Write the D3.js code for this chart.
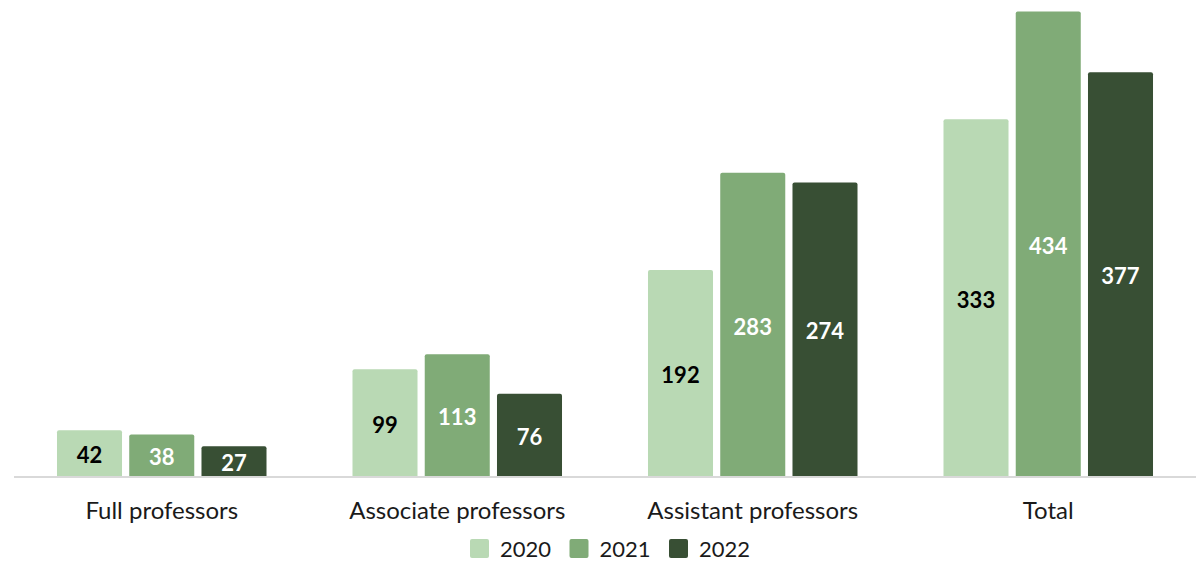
<!DOCTYPE html>
<html>
<head>
<meta charset="utf-8">
<script src="https://cdn.jsdelivr.net/npm/d3@7"></script>
<style>
  body { margin: 0; background: #fff; }
  svg { display: block; font-family: Lato, "Open Sans", sans-serif; }
</style>
</head>
<body>
<svg id="chart" width="1200" height="561"></svg>
<script>
var categories = ['Full professors', 'Associate professors', 'Assistant professors', 'Total'];
var years = ['2020', '2021', '2022'];
var values2020 = [42, 99, 192, 333];
var values2021 = [38, 113, 283, 434];
var values2022 = [27, 76, 274, 377];

var colors = ['#b9d9b4', '#80ab77', '#384f34'];
var labelColors = ['#000', '#fff', '#fff'];

var seriesValues = [values2020, values2021, values2022];

var svg = d3.select('#chart');

var x0 = d3.scaleBand()
  .domain(categories)
  .range([14, 1196]);

var x1 = d3.scaleBand()
  .domain(years)
  .range([0, x0.bandwidth()])
  .paddingInner(0.1)
  .paddingOuter(0.595);

var y = d3.scaleLinear()
  .domain([0, 434])
  .range([475, 11.5]);

var rows = categories.map(function (c, i) {
  return {
    category: c,
    bars: years.map(function (yr, j) {
      return { year: yr, idx: j, value: seriesValues[j][i] };
    })
  };
});

var groups = svg.append('g')
  .selectAll('g.group')
  .data(rows)
  .enter()
  .append('g')
  .attr('class', 'group')
  .attr('transform', function (d) { return 'translate(' + x0(d.category) + ',0)'; });

groups.selectAll('rect')
  .data(function (d) { return d.bars; })
  .enter()
  .append('rect')
  .attr('x', function (d) { return x1(d.year); })
  .attr('y', function (d) { return y(d.value); })
  .attr('width', x1.bandwidth())
  .attr('height', function (d) { return y(0) - y(d.value) + 3; })
  .attr('rx', 2)
  .attr('fill', function (d) { return colors[d.idx]; });

groups.selectAll('text.value')
  .data(function (d) { return d.bars; })
  .enter()
  .append('text')
  .attr('class', 'value')
  .attr('x', function (d) { return x1(d.year) + x1.bandwidth() / 2; })
  .attr('y', function (d) { return (y(d.value) + y(0)) / 2 + 3; })
  .attr('dy', '0.35em')
  .attr('text-anchor', 'middle')
  .style('font-size', '22px')
  .style('font-weight', 'bold')
  .attr('fill', function (d) { return labelColors[d.idx]; })
  .text(function (d) { return d.value; });

// baseline
svg.append('line')
  .attr('x1', 14)
  .attr('x2', 1196)
  .attr('y1', 477)
  .attr('y2', 477)
  .attr('stroke', '#d9d9d9')
  .attr('stroke-width', 2);

// category axis
var xAxis = svg.append('g')
  .attr('transform', 'translate(0,477)')
  .call(d3.axisBottom(x0).tickSize(0).tickPadding(25));
xAxis.select('.domain').remove();
xAxis.selectAll('text')
  .style('font-family', 'Lato, "Open Sans", sans-serif')
  .style('font-size', '24px')
  .attr('fill', '#1a1a1a');

// legend
var legend = svg.append('g')
  .selectAll('g.legend')
  .data(years)
  .enter()
  .append('g')
  .attr('class', 'legend')
  .attr('transform', function (d, i) { return 'translate(' + (470 + i * 99.5) + ',539)'; });

legend.append('rect')
  .attr('width', 19)
  .attr('height', 19)
  .attr('rx', 2)
  .attr('fill', function (d, i) { return colors[i]; });

legend.append('text')
  .attr('x', 30)
  .attr('y', 10)
  .attr('dy', '0.35em')
  .style('font-size', '22px')
  .attr('fill', '#1a1a1a')
  .text(function (d) { return d; });
</script>
</body>
</html>
